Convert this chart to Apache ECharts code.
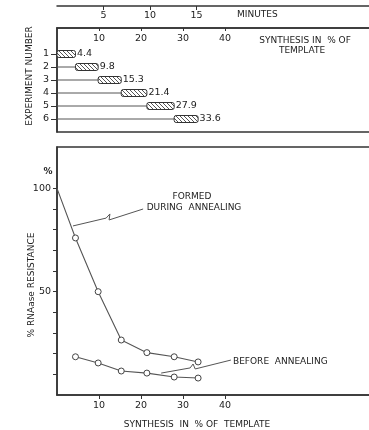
<!DOCTYPE html>
<html>
<head>
<meta charset="utf-8">
<script src="https://cdn.jsdelivr.net/npm/echarts@6/dist/echarts.min.js"></script>
<style>
  html, body { margin: 0; padding: 0; background: #fff; }
  #main { width: 369px; height: 430px; }
</style>
</head>
<body>
<div id="main"></div>
<script>
// top panel: synthesis reached in each experiment
const experiments = [1, 2, 3, 4, 5, 6];
const synthesis = [4.4, 9.8, 15.3, 21.4, 27.9, 33.6];
const minuteTicks = [5, 10, 15];
const synthesisTicks = [10, 20, 30, 40];

// bottom panel: % RNAase resistance vs synthesis
const formedDuring = [[0, 100], [4.4, 76], [9.8, 50], [15.3, 26.6], [21.4, 20.5], [27.9, 18.5], [33.6, 16]];
const beforeAnnealing = [[4.4, 18.5], [9.8, 15.5], [15.3, 11.6], [21.4, 10.6], [27.9, 8.7], [33.6, 8.2]];
const resistanceTicks = [10, 20, 30, 40, 50, 60, 70, 80, 90, 100];
const resistanceLabels = [50, 100];

// leader lines for the two annotations (data units)
const formedLeader = [[3.8, 81.8], [11.7, 85.6], [12.6, 87.6], [12.4, 84.7], [20.5, 90.0]];
const beforeLeader = [[24.8, 10.6], [31.7, 13.1], [32.4, 15.0], [32.9, 12.6], [41.4, 16.9]];

const INK = '#333';
const FONT = 'DejaVu Sans';

// hatch pattern for the boxes
const hatch = document.createElement('canvas');
hatch.width = 4; hatch.height = 4;
const hc = hatch.getContext('2d');
hc.fillStyle = '#fff';
hc.fillRect(0, 0, 4, 4);
hc.strokeStyle = '#555';
hc.lineWidth = 1;
hc.beginPath();
hc.moveTo(0, 0); hc.lineTo(4, 4);
hc.moveTo(-1, 3); hc.lineTo(1, 5);
hc.moveTo(3, -1); hc.lineTo(5, 1);
hc.stroke();

const boxData = experiments.map((e, i) => [e, i ? synthesis[i - 1] : 0, synthesis[i]]);

const chart = echarts.init(document.getElementById('main'));

const axisText = { color: '#222', fontFamily: FONT, fontSize: 9.5 };
const noteFont = '9px ' + FONT;
const dotStyle = { color: '#fff', borderColor: '#444', borderWidth: 1 };

const option = {
    backgroundColor: '#fff',
    animation: false,
    grid: [
        { left: 57, top: 5, width: 335, height: 1, show: false, outerBoundsMode: 'none' },
        { left: 57, top: 28, width: 336, height: 104, show: true, borderColor: INK, borderWidth: 1.5, outerBoundsMode: 'none' },
        { left: 57, top: 147, width: 336, height: 248, show: true, borderColor: INK, borderWidth: 1.5, outerBoundsMode: 'none' }
    ],
    xAxis: [
        {
            gridIndex: 0, type: 'value', min: 0, max: 36, position: 'bottom',
            axisLine: { show: true, onZero: false, lineStyle: { color: INK, width: 1.5 } },
            axisTick: { show: true, customValues: minuteTicks, length: 4, lineStyle: { color: INK } },
            axisLabel: { customValues: minuteTicks, margin: 5, ...axisText },
            splitLine: { show: false }
        },
        {
            gridIndex: 1, type: 'value', min: 0, max: 80, position: 'top',
            axisLine: { show: true, onZero: false, lineStyle: { color: INK, width: 1.5 } },
            axisTick: { show: true, inside: true, customValues: synthesisTicks, length: 3, lineStyle: { color: INK } },
            axisLabel: { inside: true, customValues: synthesisTicks, margin: 6, ...axisText },
            splitLine: { show: false }
        },
        {
            gridIndex: 2, type: 'value', min: 0, max: 80,
            axisLine: { show: true, onZero: false, lineStyle: { color: INK, width: 1.5 } },
            axisTick: { show: true, customValues: synthesisTicks, length: 4, lineStyle: { color: INK } },
            axisLabel: { customValues: synthesisTicks, margin: 6, ...axisText },
            splitLine: { show: false }
        }
    ],
    yAxis: [
        { gridIndex: 0, type: 'value', show: false, min: 0, max: 1 },
        {
            gridIndex: 1, type: 'value', min: -1, max: 7, inverse: true,
            axisLine: { show: true, onZero: false, lineStyle: { color: INK, width: 1.5 } },
            axisTick: { show: true, customValues: experiments, length: 6, lineStyle: { color: INK } },
            axisLabel: { customValues: experiments, margin: 8, ...axisText },
            splitLine: { show: false }
        },
        {
            gridIndex: 2, type: 'value', min: 0, max: 120,
            axisLine: { show: true, onZero: false, lineStyle: { color: INK, width: 1.5 } },
            axisTick: { show: true, customValues: resistanceTicks, length: 4, lineStyle: { color: INK } },
            axisLabel: { customValues: resistanceLabels, margin: 6, ...axisText },
            splitLine: { show: false }
        }
    ],
    series: [
        {
            type: 'custom',
            xAxisIndex: 1, yAxisIndex: 1,
            encode: { x: [1, 2], y: 0 },
            data: boxData,
            renderItem: function (params, api) {
                const row = api.value(0);
                const start = api.value(1);
                const end = api.value(2);
                const p0 = api.coord([0, row]);
                const p1 = api.coord([start, row]);
                const p2 = api.coord([end, row]);
                const h = 7;
                return {
                    type: 'group',
                    children: [
                        { type: 'line', shape: { x1: p0[0], y1: p0[1], x2: p1[0], y2: p1[1] },
                          style: { stroke: '#555', lineWidth: 1 } },
                        { type: 'rect', shape: { x: p1[0], y: p1[1] - h / 2, width: p2[0] - p1[0], height: h, r: 2 },
                          style: { fill: { image: hatch, repeat: 'repeat' }, stroke: INK, lineWidth: 1 } },
                        { type: 'text', x: p2[0] + 1.5, y: p2[1],
                          style: { text: String(end), fill: '#222', font: '9.5px ' + FONT, verticalAlign: 'middle' } }
                    ]
                };
            }
        },
        {
            type: 'line', xAxisIndex: 2, yAxisIndex: 2,
            data: formedDuring.map((d, i) => i === 0 ? { value: d, symbol: 'none' } : d),
            symbol: 'circle', symbolSize: 6,
            lineStyle: { color: '#555', width: 1.1 },
            itemStyle: dotStyle
        },
        {
            type: 'line', xAxisIndex: 2, yAxisIndex: 2,
            data: beforeAnnealing,
            symbol: 'circle', symbolSize: 6,
            lineStyle: { color: '#555', width: 1.1 },
            itemStyle: dotStyle
        },
        {
            type: 'line', xAxisIndex: 2, yAxisIndex: 2,
            data: formedLeader, symbol: 'none',
            lineStyle: { color: '#555', width: 1 }
        },
        {
            type: 'line', xAxisIndex: 2, yAxisIndex: 2,
            data: beforeLeader, symbol: 'none',
            lineStyle: { color: '#555', width: 1 }
        }
    ],
    graphic: [
        { type: 'text', left: 237, top: 10, style: { text: 'MINUTES', fill: '#222', font: noteFont } },
        { type: 'text', x: 305, y: 41, style: { text: 'SYNTHESIS IN  % OF', fill: '#222', font: noteFont, align: 'center', verticalAlign: 'middle' } },
        { type: 'text', x: 302, y: 51, style: { text: 'TEMPLATE', fill: '#222', font: noteFont, align: 'center', verticalAlign: 'middle' } },
        { type: 'text', x: 30, y: 76, rotation: Math.PI / 2, style: { text: 'EXPERIMENT NUMBER', fill: '#222', font: noteFont, align: 'center', verticalAlign: 'middle' } },
        { type: 'text', x: 48, y: 172, style: { text: '%', fill: '#222', font: 'bold 9px ' + FONT, align: 'center', verticalAlign: 'middle' } },
        { type: 'text', x: 32, y: 285, rotation: Math.PI / 2, style: { text: '% RNAase RESISTANCE', fill: '#222', font: noteFont, align: 'center', verticalAlign: 'middle' } },
        { type: 'text', x: 192, y: 197, style: { text: 'FORMED', fill: '#222', font: noteFont, align: 'center', verticalAlign: 'middle' } },
        { type: 'text', x: 194, y: 208, style: { text: 'DURING  ANNEALING', fill: '#222', font: noteFont, align: 'center', verticalAlign: 'middle' } },
        { type: 'text', x: 233, y: 362, style: { text: 'BEFORE  ANNEALING', fill: '#222', font: noteFont, verticalAlign: 'middle' } },
        { type: 'text', x: 197, y: 425, style: { text: 'SYNTHESIS  IN  % OF  TEMPLATE', fill: '#222', font: noteFont, align: 'center', verticalAlign: 'middle' } }
    ]
};

chart.setOption(option);
</script>
</body>
</html>
